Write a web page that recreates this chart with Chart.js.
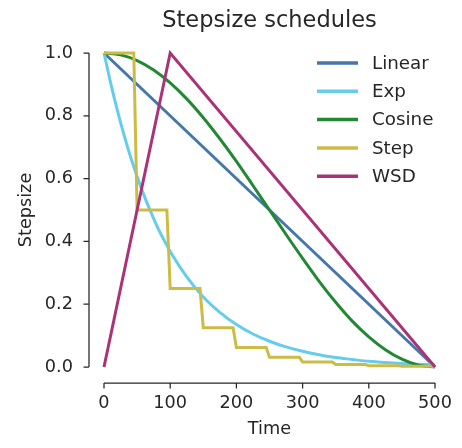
<!DOCTYPE html>
<html>
<head>
<meta charset="utf-8">
<script src="https://cdn.jsdelivr.net/npm/chart.js@4/dist/chart.umd.min.js"></script>
<style>
    html, body { margin: 0; padding: 0; background: #ffffff; }
    #wrap { width: 462px; height: 448px; position: relative; }
</style>
</head>
<body>
<div id="wrap"><canvas id="scheduleChart" width="462" height="448"></canvas></div>
<script>
// Schedule data: time steps and stepsize values per schedule
const seriesNames = ['Linear', 'Exp', 'Cosine', 'Step', 'WSD'];
const seriesColors = ['#4477AA', '#66CCEE', '#228833', '#CCBB44', '#AA3377'];

const linearTime = [0, 500];
const linearValues = [1.0, 0.0];

const expTime = [0, 10, 20, 30, 40, 50, 60, 70, 80, 90, 100, 125, 150, 175, 200, 225, 250, 275, 300, 325, 350, 375, 400, 425, 450, 475, 500];
const expValues = [1.0, 0.905, 0.819, 0.741, 0.670, 0.607, 0.549, 0.497, 0.449, 0.407, 0.368, 0.287, 0.223, 0.174, 0.135, 0.105, 0.082, 0.064, 0.050, 0.039, 0.030, 0.024, 0.018, 0.014, 0.011, 0.009, 0.007];

const cosineTime = [0, 25, 50, 75, 100, 125, 150, 175, 200, 225, 250, 275, 300, 325, 350, 375, 400, 425, 450, 475, 500];
const cosineValues = [1.0, 0.994, 0.976, 0.946, 0.905, 0.854, 0.794, 0.727, 0.655, 0.578, 0.5, 0.422, 0.346, 0.273, 0.206, 0.146, 0.096, 0.055, 0.025, 0.006, 0.0];

// each halving lands over one sampling interval
const stepTime = [0, 45, 50, 95, 100, 145, 150, 195, 200, 245, 250, 295, 300, 345, 350, 395, 400, 445, 450, 495, 500];
const stepValues = [1.0, 1.0, 0.5, 0.5, 0.25, 0.25, 0.125, 0.125, 0.0625, 0.0625, 0.031, 0.031, 0.016, 0.016, 0.008, 0.008, 0.004, 0.004, 0.002, 0.002, 0.001];

const wsdTime = [0, 100, 500];
const wsdValues = [0.0, 1.0, 0.0];

const xTicks = [0, 100, 200, 300, 400, 500];
const yTicks = [0.0, 0.2, 0.4, 0.6, 0.8, 1.0];

document.addEventListener('DOMContentLoaded', () => {
    const inkColor = '#262626';
    const fontFamily = '"DejaVu Sans", sans-serif';
    const labelSize = 17.7;

    const toPoints = (xs, ys) => xs.map((x, i) => ({ x: x, y: ys[i] }));

    const pointSets = [
        toPoints(linearTime, linearValues),
        toPoints(expTime, expValues),
        toPoints(cosineTime, cosineValues),
        toPoints(stepTime, stepValues),
        toPoints(wsdTime, wsdValues)
    ];

    const datasets = seriesNames.map((name, i) => ({
        label: name,
        data: pointSets[i],
        borderColor: seriesColors[i],
        backgroundColor: seriesColors[i],
        borderWidth: 3,
        pointRadius: 0,
        fill: false,
        clip: false,
        // later series sit on top
        order: seriesNames.length - i,
        cubicInterpolationMode: (name === 'Exp' || name === 'Cosine') ? 'monotone' : 'default'
    }));

    // Spines detached from the plot area, plus title and legend
    const decorPlugin = {
        id: 'decor',
        afterDraw(chart) {
            const ctx = chart.ctx;
            const xs = chart.scales.x;
            const ys = chart.scales.y;
            const gap = 15;
            const tick = 5.5;

            ctx.save();
            ctx.strokeStyle = inkColor;
            ctx.lineWidth = 1.25;
            ctx.lineCap = 'butt';

            const spineX = chart.chartArea.left - gap;
            ctx.beginPath();
            ctx.moveTo(spineX, ys.getPixelForValue(yTicks[0]));
            ctx.lineTo(spineX, ys.getPixelForValue(yTicks[yTicks.length - 1]));
            yTicks.forEach(v => {
                const py = ys.getPixelForValue(v);
                ctx.moveTo(spineX - tick, py);
                ctx.lineTo(spineX, py);
            });
            ctx.stroke();

            const spineY = chart.chartArea.bottom + gap + 1;
            ctx.beginPath();
            ctx.moveTo(xs.getPixelForValue(xTicks[0]), spineY);
            ctx.lineTo(xs.getPixelForValue(xTicks[xTicks.length - 1]), spineY);
            xTicks.forEach(v => {
                const px = xs.getPixelForValue(v);
                ctx.moveTo(px, spineY);
                ctx.lineTo(px, spineY + tick);
            });
            ctx.stroke();

            // title centred over the axes
            ctx.fillStyle = inkColor;
            ctx.font = '22.5px ' + fontFamily;
            ctx.textAlign = 'center';
            ctx.textBaseline = 'alphabetic';
            ctx.fillText('Stepsize schedules', (chart.chartArea.left + chart.chartArea.right) / 2, 27);

            // legend
            ctx.font = '18.3px ' + fontFamily;
            ctx.textAlign = 'left';
            ctx.textBaseline = 'middle';
            seriesNames.forEach((name, i) => {
                const rowY = 63 + i * 28.3;
                ctx.strokeStyle = seriesColors[i];
                ctx.lineWidth = 3.5;
                ctx.beginPath();
                ctx.moveTo(317, rowY);
                ctx.lineTo(358, rowY);
                ctx.stroke();
                ctx.fillStyle = inkColor;
                ctx.fillText(name, 372, rowY + 1);
            });
            ctx.restore();
        }
    };

    new Chart(document.getElementById('scheduleChart'), {
        type: 'line',
        data: { datasets: datasets },
        options: {
            responsive: false,
            animation: false,
            events: [],
            layout: { padding: { top: 53, right: 27, left: 0, bottom: 0 } },
            plugins: {
                legend: { display: false },
                title: { display: false },
                tooltip: { enabled: false }
            },
            scales: {
                x: {
                    type: 'linear',
                    min: 0,
                    max: 500,
                    afterBuildTicks: scale => { scale.ticks = xTicks.map(v => ({ value: v })); },
                    afterFit: scale => {
                        scale.height = 81;
                        scale.paddingLeft = 0;
                        scale.paddingRight = 0;
                    },
                    grid: { display: false, drawTicks: false },
                    border: { display: false },
                    ticks: {
                        color: inkColor,
                        padding: 26,
                        font: { family: fontFamily, size: labelSize },
                        callback: v => String(v)
                    },
                    title: {
                        display: true,
                        text: 'Time',
                        color: inkColor,
                        font: { family: fontFamily, size: labelSize },
                        padding: { top: 4, bottom: 8 }
                    }
                },
                y: {
                    type: 'linear',
                    min: 0,
                    max: 1,
                    afterBuildTicks: scale => { scale.ticks = yTicks.map(v => ({ value: v })); },
                    afterFit: scale => {
                        scale.width = 104;
                        scale.paddingTop = 0;
                        scale.paddingBottom = 0;
                    },
                    grid: { display: false, drawTicks: false },
                    border: { display: false },
                    ticks: {
                        color: inkColor,
                        padding: 31,
                        font: { family: fontFamily, size: labelSize },
                        callback: v => v.toFixed(1)
                    },
                    title: {
                        display: true,
                        text: 'Stepsize',
                        color: inkColor,
                        font: { family: fontFamily, size: labelSize },
                        padding: { top: 16, bottom: 4 }
                    }
                }
            }
        },
        plugins: [decorPlugin]
    });
});
</script>
</body>
</html>
